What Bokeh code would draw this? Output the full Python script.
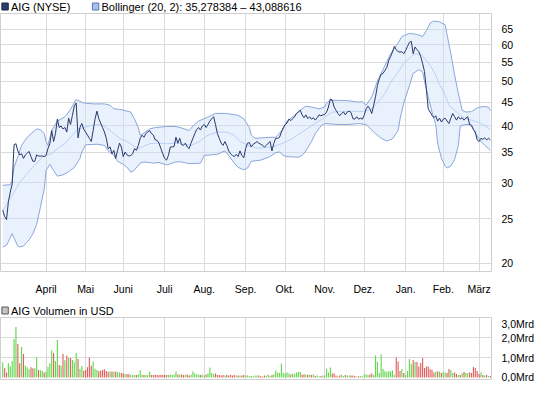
from bokeh.plotting import figure
from bokeh.models import Range1d, FixedTicker, PrintfTickFormatter, ColumnDataSource
from bokeh.core.properties import value
from bokeh.layouts import column
from bokeh.embed import file_html
from bokeh.resources import INLINE

# ---------------- data (x = trading day index, day 0 = 1 March 2010) ----------------
month_labels = ["April", "Mai", "Juni", "Juli", "Aug.", "Sep.", "Okt.", "Nov.",
                "Dez.", "Jan.", "Feb.", "März"]
month_start_day = [23, 44, 64, 86, 107, 129, 150, 171, 192, 214, 234, 253]

price_ticks = [20, 25, 30, 35, 40, 45, 50, 55, 60, 65]
vol_ticks = [0, 1, 2, 3]
vol_tick_labels = ["0,0Mrd", "1,0Mrd", "2,0Mrd", "3,0Mrd"]

price_label = "AIG (NYSE)"
boll_label = "Bollinger (20, 2): 35,278384 \u2013 43,088616"
vol_label = "AIG Volumen in USD"

close = [
    26.1, 25.3, 24.9, 27.3, 28.6, 29.8, 36.3, 36.5, 35.2, 34.5,
    34.7, 33.9, 34.5, 34.8, 35.1, 34.2, 33.4, 33.4, 34.5, 34.3,
    34.3, 34.3, 34.2, 34.4, 35.6, 36.5, 39.0, 36.9, 38.4, 41.3,
    39.6, 39.9, 39.3, 39.6, 38.7, 41.5, 40.2, 42.1, 44.1, 44.8,
    37.6, 39.6, 40.4, 39.3, 38.7, 38.1, 37.5, 36.9, 39.0, 41.3,
    43.0, 41.4, 40.5, 39.6, 38.7, 37.5, 35.6, 35.9, 34.7, 35.3,
    33.9, 35.3, 36.6, 35.9, 34.2, 35.0, 34.5, 34.3, 34.4, 34.7,
    35.6, 35.3, 36.2, 37.5, 38.1, 37.7, 38.4, 38.7, 39.0, 38.4,
    38.1, 37.2, 37.1, 36.6, 35.6, 34.7, 33.9, 33.6, 34.4, 35.9,
    35.9, 36.0, 37.7, 36.6, 37.5, 36.3, 36.2, 36.6, 35.9, 35.6,
    36.6, 37.5, 38.4, 39.2, 39.6, 39.1, 39.9, 40.2, 39.6, 40.2,
    40.9, 41.4, 41.8, 40.2, 38.4, 37.5, 36.6, 36.2, 36.9, 36.2,
    35.2, 34.7, 34.4, 34.2, 34.6, 34.2, 35.2, 34.4, 34.0, 35.6,
    36.6, 36.7, 35.9, 36.4, 36.6, 36.9, 36.6, 36.4, 36.2, 35.9,
    36.2, 36.6, 36.9, 35.2, 36.6, 37.5, 37.5, 37.7, 38.7, 39.6,
    40.2, 40.5, 41.3, 41.0, 41.4, 41.8, 42.5, 42.8, 43.2, 42.2,
    41.6, 42.2, 41.4, 41.8, 41.3, 41.6, 41.1, 41.6, 42.2, 42.0,
    42.2, 42.3, 42.8, 43.9, 45.7, 45.5, 43.9, 43.2, 42.5, 42.0,
    42.5, 42.8, 42.2, 42.8, 43.0, 42.7, 41.4, 41.3, 41.8, 41.3,
    41.5, 41.3, 42.1, 43.5, 44.1, 43.5, 42.5, 44.3, 46.2, 48.9,
    50.6, 51.8, 52.0, 52.8, 53.6, 55.5, 56.6, 57.9, 59.6, 58.6,
    58.0, 57.9, 58.0, 57.4, 58.4, 59.6, 60.8, 61.1, 57.4, 59.4,
    58.6, 58.0, 56.6, 54.7, 52.5, 48.0, 43.5, 42.8, 42.1, 41.6,
    42.0, 40.9, 41.5, 40.7, 41.3, 41.5, 40.9, 40.4, 41.5, 42.5,
    41.8, 41.1, 41.8, 41.3, 41.6, 41.1, 41.5, 41.8, 40.2, 39.9,
    39.2, 38.7, 37.2, 36.9, 37.5, 37.3, 37.6, 37.2, 37.5, 37.2,
]

upper_day = [0, 4, 5, 6, 8, 10, 13, 16, 18, 20, 22, 23, 24, 26, 29, 33, 35, 37, 39, 41,
             43, 48, 54, 57, 59, 62, 66, 68, 70, 72, 73, 75, 78, 81, 87, 92, 95, 99, 101,
             104, 107, 111, 113, 119, 125, 128, 131, 132, 134, 138, 142, 145, 149, 151,
             155, 158, 161, 164, 168, 171, 172, 174, 178, 184, 189, 191, 193, 196, 199,
             203, 206, 210, 212, 216, 220, 223, 225, 227, 229, 232, 235, 236, 238, 240,
             242, 244, 246, 249, 252, 255, 258, 259]
upper_val = [29.6, 29.7, 30.3, 32.4, 34.2, 36.2, 37.7, 38.7, 39.3, 39.2, 38.4, 36.9, 36.2,
             39.0, 40.9, 41.8, 42.8, 44.1, 45.6, 45.2, 44.8, 44.6, 44.6, 44.3, 43.5, 43.4,
             43.0, 42.8, 41.3, 39.6, 38.1, 38.5, 39.3, 39.6, 39.8, 39.8, 39.5, 39.0, 39.9,
             40.9, 41.4, 42.1, 42.5, 42.5, 42.1, 41.4, 39.6, 38.1, 37.5, 37.6, 37.7, 37.7,
             39.3, 40.9, 42.1, 43.2, 44.1, 43.9, 43.5, 43.9, 44.8, 45.4, 45.4, 45.3, 45.0,
             45.1, 44.3, 46.2, 50.0, 54.1, 57.4, 60.6, 62.6, 63.6, 63.3, 62.6, 64.5, 67.0,
             67.7, 67.4, 66.4, 63.2, 57.4, 51.6, 47.0, 43.2, 42.8, 42.9, 43.7, 44.0, 43.9,
             43.09]

middle_day = [0, 3, 6, 9, 12, 16, 19, 22, 26, 29, 33, 36, 40, 43, 48, 52, 55, 59, 62, 66,
              69, 72, 74, 78, 81, 87, 92, 100, 104, 109, 114, 119, 123, 126, 130, 135, 140,
              144, 149, 154, 159, 165, 170, 175, 180, 185, 191, 196, 199, 203, 206, 210,
              213, 217, 219, 222, 224, 227, 230, 232, 235, 237, 240, 243, 246, 249, 253,
              256, 259]
middle_val = [26.0, 27.3, 28.6, 30.0, 31.1, 32.4, 33.4, 34.4, 34.7, 35.6, 36.5, 37.7, 39.3,
              39.6, 40.1, 40.2, 39.6, 38.4, 37.5, 36.9, 36.2, 35.6, 35.9, 36.5, 36.6, 36.5,
              36.6, 36.2, 36.8, 38.1, 38.7, 38.7, 38.1, 36.9, 36.2, 35.7, 35.8, 36.0, 36.6,
              37.5, 38.7, 40.2, 41.4, 42.8, 42.9, 43.0, 42.9, 43.5, 44.8, 47.0, 49.6, 52.4,
              54.7, 56.6, 57.4, 57.3, 56.2, 54.1, 51.6, 49.2, 46.6, 44.3, 43.2, 42.1, 41.4,
              41.1, 40.6, 40.0, 39.18]

lower_day = [0, 2, 3, 5, 6, 8, 9, 11, 14, 16, 18, 20, 22, 23, 25, 27, 29, 32, 35, 38, 41,
             42, 44, 50, 54, 56, 59, 61, 64, 67, 68, 70, 73, 75, 80, 83, 87, 90, 92, 95,
             99, 105, 107, 114, 118, 120, 123, 125, 128, 130, 132, 137, 142, 145, 147,
             149, 151, 157, 159, 161, 164, 166, 169, 171, 178, 184, 189, 193, 198, 201,
             204, 207, 210, 211, 213, 216, 218, 221, 223, 224, 226, 228, 230, 231, 233,
             235, 236, 238, 240, 242, 243, 246, 249, 251, 254, 256, 258, 259]
lower_val = [21.7, 21.9, 22.3, 23.2, 22.7, 21.8, 21.7, 21.8, 22.5, 23.2, 24.3, 26.5, 29.0,
             31.9, 32.9, 31.9, 31.0, 31.2, 31.7, 32.4, 33.9, 35.0, 36.3, 36.4, 36.2, 35.2,
             34.4, 33.4, 32.9, 32.1, 31.6, 32.0, 33.1, 33.3, 33.1, 33.2, 32.8, 33.1, 33.3,
             33.3, 33.0, 33.1, 34.4, 34.6, 35.2, 34.4, 33.1, 32.4, 32.0, 32.3, 33.4, 33.6,
             34.2, 34.9, 35.0, 34.4, 34.2, 34.1, 34.4, 35.2, 36.9, 38.4, 39.9, 40.4, 40.2,
             40.2, 40.4, 40.2, 38.4, 37.5, 37.0, 37.4, 39.0, 41.3, 44.8, 48.9, 52.0, 53.0,
             52.4, 50.0, 46.2, 42.8, 40.2, 36.6, 33.9, 32.6, 32.3, 32.6, 33.7, 36.2, 39.9,
             40.2, 40.2, 38.4, 36.9, 36.2, 35.6, 35.28]

# daily volume in Mrd USD
volume_mrd = [
    0.76, 0.46, 0.25, 0.71, 0.56, 0.83, 1.93, 2.53, 1.68, 0.71,
    1.53, 1.17, 0.59, 0.51, 0.41, 0.51, 0.46, 0.46, 1.00, 0.37,
    0.36, 0.32, 0.25, 0.30, 0.54, 0.71, 1.36, 1.22, 0.83, 1.88,
    0.63, 0.59, 1.17, 0.86, 1.10, 0.97, 0.97, 0.88, 0.76, 1.22,
    0.92, 0.42, 0.58, 0.34, 0.37, 0.51, 1.00, 0.59, 0.80, 0.44,
    0.37, 0.32, 0.34, 0.37, 0.41, 0.32, 0.29, 0.30, 0.30, 0.29,
    0.30, 0.28, 0.25, 0.22, 0.20, 0.17, 0.18, 0.16, 0.14, 0.13,
    0.13, 0.12, 0.16, 0.38, 0.15, 0.12, 0.12, 0.12, 0.30, 0.13,
    0.12, 0.14, 0.13, 0.12, 0.14, 0.13, 0.12, 0.12, 0.12, 0.14,
    0.12, 0.15, 0.30, 0.15, 0.15, 0.15, 0.12, 0.12, 0.15, 0.10,
    0.15, 0.30, 0.20, 0.15, 0.15, 0.12, 0.15, 0.10, 0.15, 0.20,
    0.50, 0.22, 0.18, 0.20, 0.12, 0.12, 0.10, 0.12, 0.10, 0.12,
    0.10, 0.12, 0.10, 0.12, 0.10, 0.10, 0.10, 0.10, 0.12, 0.10,
    0.10, 0.08, 0.06, 0.06, 0.10, 0.10, 0.10, 0.06, 0.05, 0.10,
    0.10, 0.15, 0.08, 0.12, 0.15, 0.35, 0.25, 0.22, 0.70, 0.22,
    0.20, 0.25, 0.20, 0.15, 0.20, 0.18, 0.25, 0.27, 0.28, 0.15,
    0.15, 0.15, 0.14, 0.15, 0.12, 0.15, 0.08, 0.10, 0.06, 0.08,
    0.10, 0.10, 0.42, 0.25, 0.50, 0.20, 0.20, 0.10, 0.05, 0.10,
    0.15, 0.08, 0.12, 0.10, 0.10, 0.10, 0.10, 0.08, 0.05, 0.06,
    0.08, 0.05, 0.15, 0.15, 0.12, 0.15, 0.20, 0.12, 1.10, 0.80,
    0.22, 1.15, 0.42, 0.33, 0.28, 0.33, 0.30, 0.35, 0.12, 1.00,
    0.80, 0.33, 0.42, 0.22, 0.13, 0.33, 0.92, 0.68, 0.88, 0.77,
    0.77, 0.55, 0.72, 0.97, 0.47, 0.55, 0.55, 0.42, 0.38, 0.25,
    0.30, 0.30, 0.30, 0.22, 0.27, 0.25, 0.22, 0.43, 0.38, 0.22,
    0.25, 0.17, 0.13, 0.13, 0.22, 0.27, 0.22, 0.22, 0.25, 0.22,
    0.52, 0.47, 0.33, 0.18, 0.25, 0.13, 0.10, 0.12, 0.08, 0.08,
]

days = list(range(len(close)))

# ---------------- styling ----------------
FONT = "Liberation Sans"
GRID = "#dadada"
W = 537
RB = 38  # right border holding the tick labels
UP, DOWN = "#62d84e", "#e0605c"

x_range = Range1d(-1.2, 259.6)


def style_common(p):
    p.outline_line_color = "#cfcfcf"
    p.background_fill_color = "white"
    p.border_fill_color = "white"
    p.xgrid.grid_line_color = GRID
    p.ygrid.grid_line_color = GRID
    p.xgrid.ticker = FixedTicker(ticks=month_start_day)
    for ax in p.xaxis + p.yaxis:
        ax.axis_line_color = None
        ax.major_tick_line_color = None
        ax.minor_tick_line_color = None
        ax.major_label_text_font = FONT
        ax.major_label_text_font_size = "10.5px"
        ax.major_label_text_color = "#000000"


def legend_row(height, entries, text_y):
    """A strip holding legend squares and texts; coordinates are pixels."""
    f = figure(width=W, height=height, x_range=Range1d(0, W), y_range=Range1d(0, height),
               output_backend="svg", toolbar_location=None, min_border=0,
               outline_line_color=None)
    f.axis.visible = False
    f.grid.visible = False
    f.background_fill_color = "white"
    f.border_fill_color = "white"
    for x0, label, fill, edge in entries:
        f.quad(left=[x0], right=[x0 + 7], bottom=[text_y - 3.5], top=[text_y + 3.5],
               fill_color=fill, line_color=edge, line_width=1)
        f.text(x=[x0 + 10], y=[text_y], text=[label], text_font=value(FONT),
               text_font_size="11px", text_baseline="middle", text_align="left",
               text_color="#000000")
    return f


# ---------------- legend rows ----------------
leg1 = legend_row(13, [(1.5, price_label, "#2d3f70", "#1b2547"),
                       (100.5, boll_label, "#a9c0ee", "#5776b5")], 7)
leg2 = legend_row(20, [(1.5, vol_label, "#c4c4c4", "#5a5a5a")], 7)

# ---------------- price chart ----------------
p1 = figure(width=W, height=284, x_range=x_range, y_range=Range1d(19.18, 70.3),
            y_axis_type="log", y_axis_location="right", output_backend="svg",
            toolbar_location=None, min_border_left=0, min_border_right=RB,
            min_border_top=0, min_border_bottom=16)
style_common(p1)

band_x = upper_day + lower_day[::-1]
band_y = upper_val + lower_val[::-1]
p1.patch(band_x, band_y, fill_color="#cfdff8", fill_alpha=0.45, line_color=None)
p1.line(middle_day, middle_val, line_color="#b9d0f6", line_width=1)
p1.line(upper_day, upper_val, line_color="#8aa6dc", line_width=1)
p1.line(lower_day, lower_val, line_color="#8aa6dc", line_width=1)
p1.line(days, close, line_color="#27396a", line_width=1)

p1.xaxis.ticker = FixedTicker(ticks=month_start_day)
p1.xaxis.major_label_overrides = {d: m for d, m in zip(month_start_day, month_labels)}
p1.xaxis.major_label_standoff = 5
p1.yaxis.ticker = FixedTicker(ticks=price_ticks)
p1.ygrid.ticker = FixedTicker(ticks=price_ticks)
p1.yaxis.formatter = PrintfTickFormatter(format="%d")
p1.yaxis.major_label_standoff = 4

# ---------------- volume chart ----------------
bar_color = [UP] + [UP if close[i] >= close[i - 1] else DOWN for i in range(1, len(close))]
vsrc = ColumnDataSource(dict(day=days, vol=volume_mrd, color=bar_color))

p2 = figure(width=W, height=65, x_range=x_range, y_range=Range1d(-0.1, 3.0),
            y_axis_location="right", output_backend="svg", toolbar_location=None,
            min_border_left=0, min_border_right=RB, min_border_top=0, min_border_bottom=3)
style_common(p2)
p2.vbar(x="day", top="vol", width=0.6, fill_color="color", line_color=None, source=vsrc)

p2.xaxis.visible = False
p2.yaxis.ticker = FixedTicker(ticks=vol_ticks)
p2.ygrid.ticker = FixedTicker(ticks=[1, 2, 3])
p2.yaxis.major_label_overrides = {t: s for t, s in zip(vol_ticks, vol_tick_labels)}
p2.yaxis.major_label_standoff = 4

layout = column(leg1, p1, leg2, p2)
open("out.html", "w").write(file_html(layout, INLINE))
